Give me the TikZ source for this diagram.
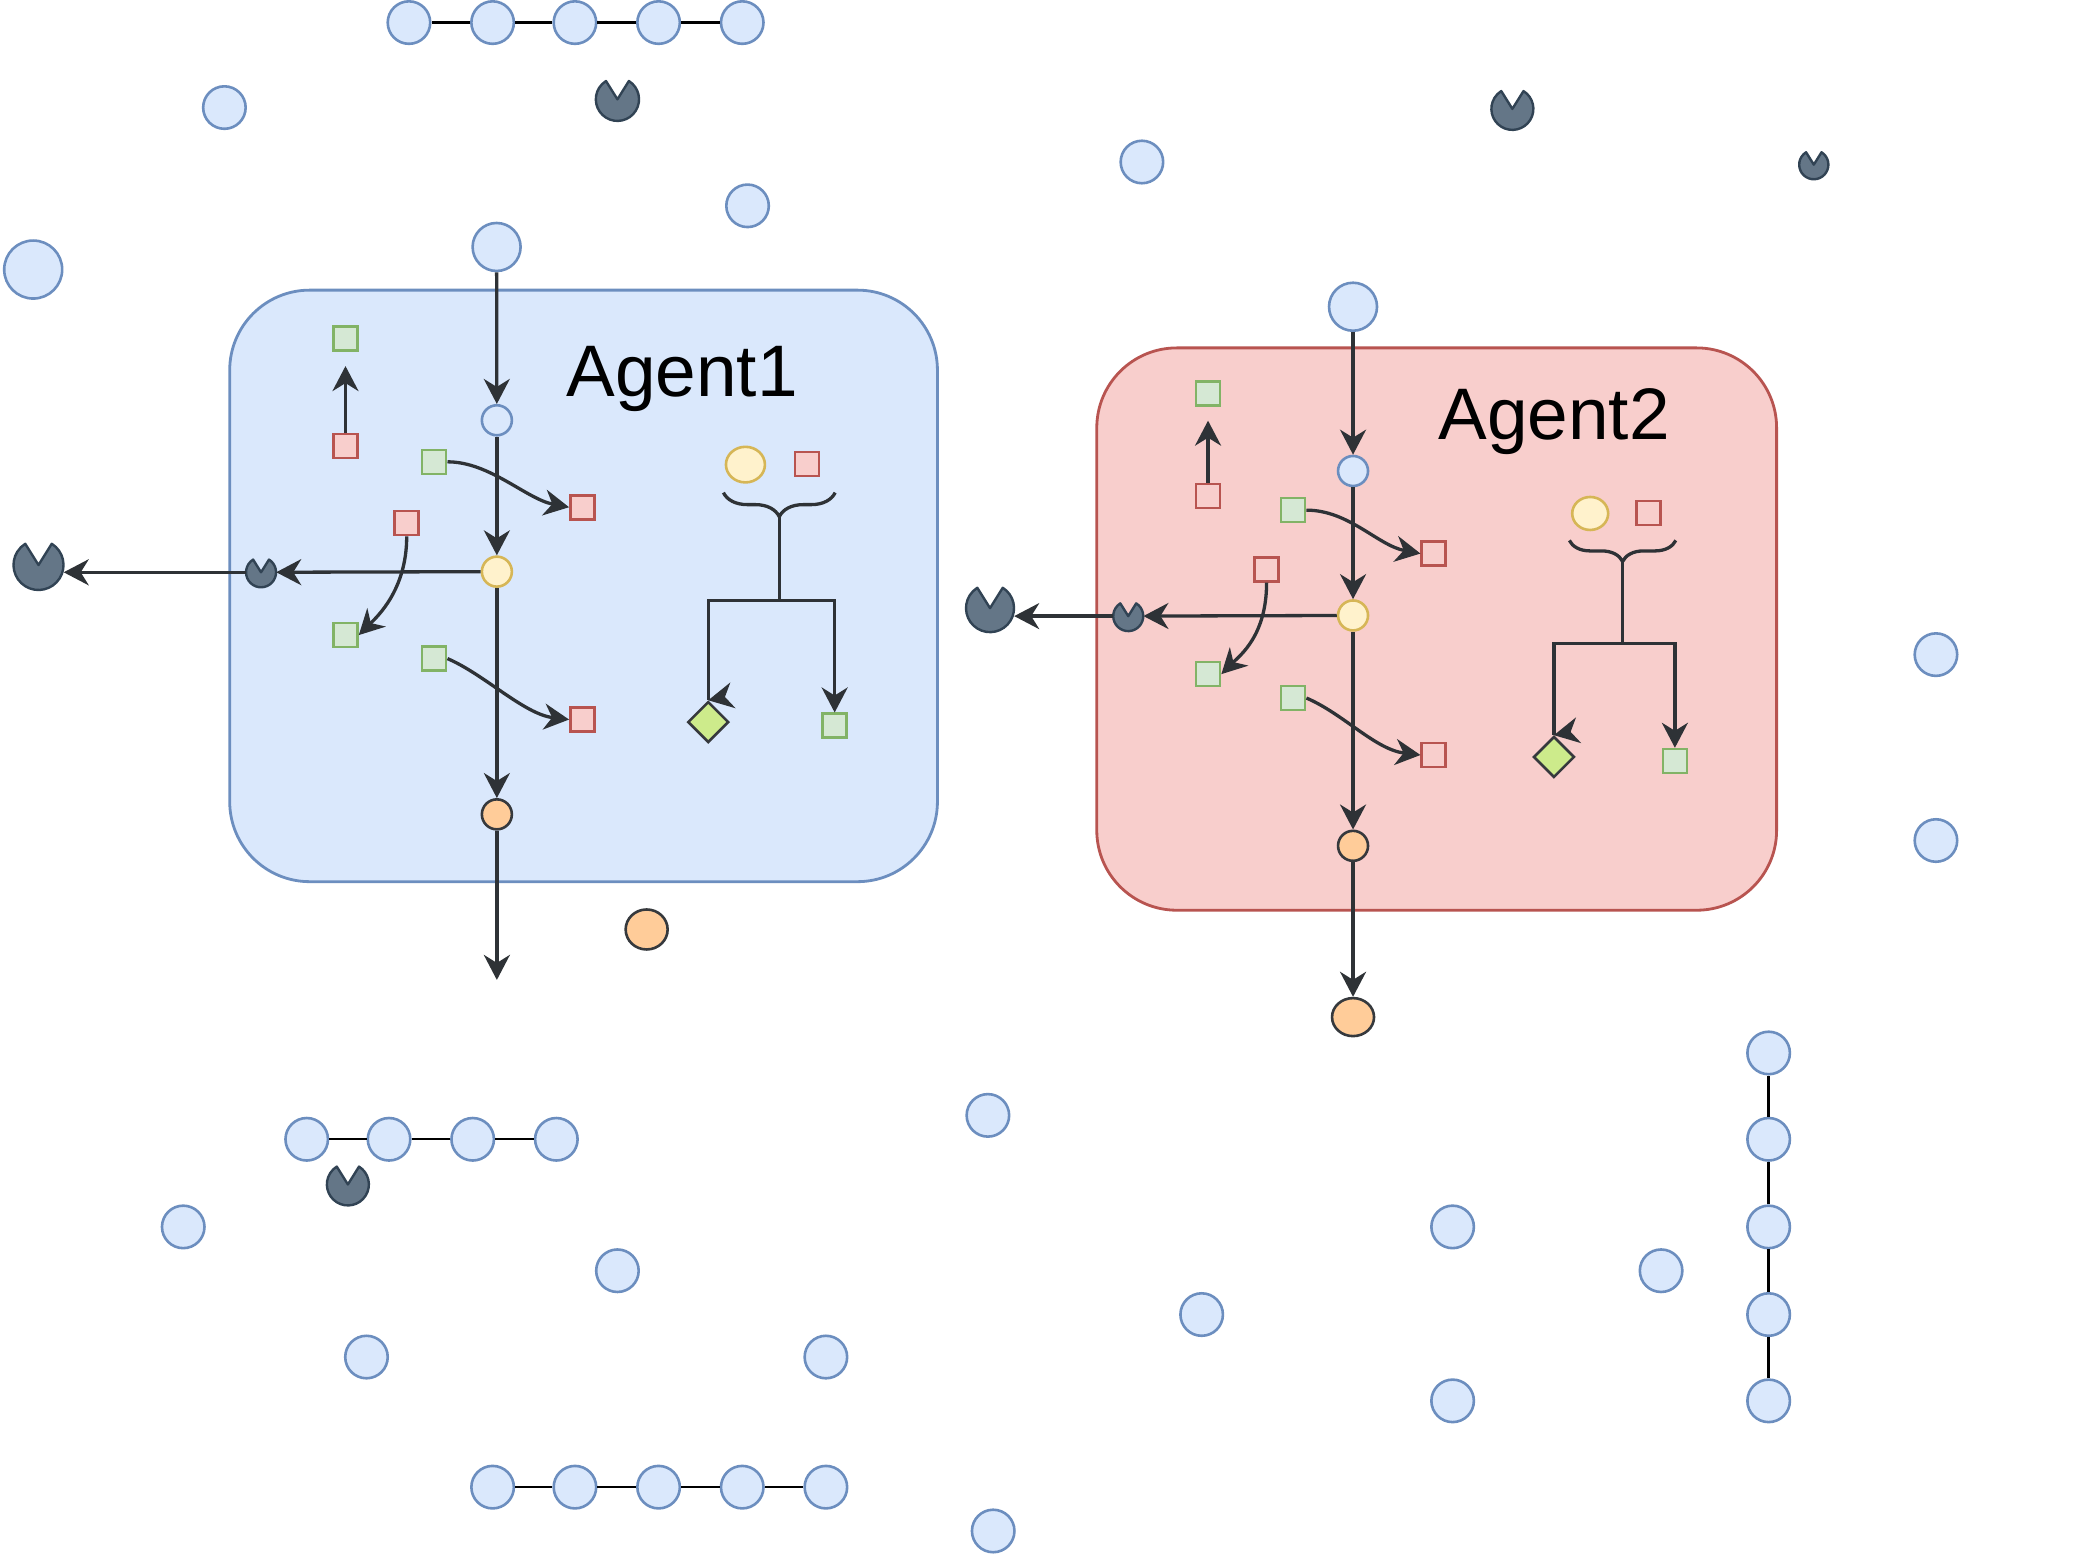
\documentclass[tikz,border=0pt]{standalone}
\usepackage{fontspec}
\setmainfont{Liberation Sans}
\usetikzlibrary{shapes.geometric,arrows.meta,decorations.pathreplacing}
\definecolor{bfill}{HTML}{DAE8FC}\definecolor{bdraw}{HTML}{6C8EBF}
\definecolor{rfill}{HTML}{F8CECC}\definecolor{rdraw}{HTML}{B85450}
\definecolor{gfill}{HTML}{D5E8D4}\definecolor{gdraw}{HTML}{82B366}
\definecolor{yfill}{HTML}{FFF2CC}\definecolor{ydraw}{HTML}{D6B656}
\definecolor{ofill}{HTML}{FFCC99}\definecolor{odraw}{HTML}{36393D}
\definecolor{pfill}{HTML}{647687}\definecolor{pdraw}{HTML}{314354}
\definecolor{dfill}{HTML}{CDEB8B}\definecolor{lcol}{HTML}{2E3236}
\newcommand\pacman[3]{%
  \node[pacnode,minimum size=2*#3pt] (#1) at (#2) {};
  \path[pac] (#1.center) -- ++(58:#3pt) arc[start angle=58,end angle=-238,radius=#3pt] -- cycle;}
\begin{document}
\begin{tikzpicture}[x=1.3278pt,y=-1.3278pt,
  base/.style={inner sep=0pt,line width=2.6pt},
  bc/.style={base,circle,draw=bdraw,fill=bfill,minimum size=42.5pt},
  sqg/.style={base,rectangle,draw=gdraw,fill=gfill,minimum size=24pt},
  sqr/.style={base,rectangle,draw=rdraw,fill=rfill,minimum size=24pt},
  yc/.style={base,ellipse,draw=ydraw,fill=yfill},
  oc/.style={base,ellipse,draw=odraw,fill=ofill},
  dm/.style={base,diamond,draw=odraw,fill=dfill,minimum size=41pt},
  pacnode/.style={circle,inner sep=0pt,draw=none},
  pac/.style={fill=pfill,draw=pdraw,line width=2.4pt,line join=round},
  arr/.style={draw=lcol,line width=3.3pt,-{Stealth[length=25pt,width=26pt,inset=8pt]}},
  ln/.style={draw=lcol,line width=3.3pt},
  chain/.style={draw=black,line width=2.4pt},
  agent/.style={rounded corners=80pt,line width=2.8pt},
  title/.style={font=\fontsize{73}{80}\selectfont,anchor=base,inner sep=0pt},
  brc/.style={draw=lcol,line width=3.3pt,decorate}]
\useasboundingbox[fill=white] (0,0) rectangle (1568,1173);

% agent boxes
\path[agent,fill=bfill,draw=bdraw] (173,218.5) rectangle (706,664);
\path[agent,fill=rfill,draw=rdraw] (826,262) rectangle (1338,685.5);
\node[title] (lab1) at (513.7,298.7) {Agent1};
\node[title] (lab2) at (1170.5,330.8) {Agent2};

% outer circles
\foreach \n/\p in {t1/{308,17},t2/{371,17},t3/{433,17},t4/{496,17},t5/{559,17},
  o1/{169,81},o2/{563,155},o4/{860,122},o5/{1458,493},o6/{1458,633},o7/{744,840},
  o8/{138,924},o9/{465,957},o10/{276,1022},o11/{622,1022},o12/{1094,924},o13/{905,990},
  o14/{1094,1055},o15/{1251,957},o16/{748,1153},
  l1/{231,858},l2/{293,858},l3/{356,858},l4/{419,858},
  b1/{371,1120},b2/{433,1120},b3/{496,1120},b4/{559,1120},b5/{622,1120},
  v1/{1332,793},v2/{1332,858},v3/{1332,924},v4/{1332,990},v5/{1332,1055}}
  \node[bc] (\n) at (\p) {};
\node[bc,minimum size=58pt] (o3) at (25,203) {};
\draw[chain] (t1) -- (t2) -- (t3) -- (t4) -- (t5);
\draw[chain] (l1) -- (l2) -- (l3) -- (l4);
\draw[chain] (b1) -- (b2) -- (b3) -- (b4) -- (b5);
\draw[chain] (v1) -- (v2) -- (v3) -- (v4) -- (v5);

% outer pacmans and orange
\pacman{pt1}{465,74.8}{21.6}
\pacman{pt2}{1139,82}{21}
\pacman{pt3}{1366,124}{14.6}
\pacman{pt4}{262,892}{21}
\pacman{pb1}{29,425.5}{25}
\pacman{pb2}{745.6,458}{24}
\node[oc,minimum width=42pt,minimum height=40pt] (ob1) at (487,700) {};
\node[oc,minimum width=42pt,minimum height=38pt] (ob2) at (1019,766) {};

% ---------------- Agent1 ----------------
\node[bc,minimum size=48pt] (in1) at (374,186) {};
\node[bc,minimum size=30pt] (bs1) at (374.2,316.5) {};
\node[yc,minimum size=30pt] (ye1) at (374.2,430.5) {};
\node[oc,minimum size=30pt] (or1) at (374.2,613.3) {};
\coordinate (out1) at (374.2,738);
\pacman{ps1}{196.6,431}{15}
\node[sqg] (g1u) at (260.2,254.9) {};
\node[sqr] (r1u) at (260.2,335.9) {};
\coordinate (a1u) at (260.2,275.7);
\node[sqg] (g1a) at (327,347.8) {};
\node[sqr] (r1a) at (438.6,382) {};
\node[sqr] (r1b) at (306.3,394) {};
\node[sqg] (g1b) at (260.2,478.3) {};
\node[sqg] (g1c) at (327,496) {};
\node[sqr] (r1c) at (438.6,541.9) {};
\node[yc,minimum width=39pt,minimum height=35.6pt] (ey1) at (561.4,349.9) {};
\node[sqr] (r1e) at (607.9,349.3) {};
\node[dm] (d1) at (533.4,543.8) {};
\node[sqg] (g1e) at (628.6,546.6) {};

\draw[arr] (in1) -- (bs1);
\draw[arr] (bs1) -- (ye1);
\draw[arr] (ye1) -- (or1);
\draw[arr] (or1) -- (out1);
\draw[arr] (ye1) -- (ps1);
\draw[arr] (ps1.west) -- (ps1.west -| pb1.east);
\draw[arr] (r1u) -- (a1u);
\draw[arr] (g1a.east) .. controls +(32,0) and +(-32,-6) .. (r1a.west);
\draw[arr] (r1b.south) .. controls +(0,40) and +(14,-14) .. (g1b.east);
\draw[arr] (g1c.east) .. controls +(28,12) and +(-34,-4) .. (r1c.west);
\draw[brc,decoration={brace,amplitude=24pt}] (629,371) -- (544.8,371);
\coordinate (bt1) at (586.9,389);
\coordinate (bj1) at (586.9,452.5);
\draw[ln] (bt1) -- (bj1);
\draw[ln] (bj1) -| (d1.north);
\draw[arr] ([shift={(10,-2)}]d1.north) -- (d1.north);
\draw[arr] (bj1) -| (g1e);

% ---------------- Agent2 ----------------
\node[bc,minimum size=48pt] (in2) at (1019,231) {};
\node[bc,minimum size=30pt] (bs2) at (1019,354.7) {};
\node[yc,minimum size=30pt] (ye2) at (1019,463.5) {};
\node[oc,minimum size=30pt] (or2) at (1019,637) {};
\pacman{ps2}{849.7,464}{15}
\node[sqg] (g2u) at (909.8,296.3) {};
\node[sqr] (r2u) at (909.8,373.4) {};
\coordinate (a2u) at (909.8,316.8);
\node[sqg] (g2a) at (973.9,384.2) {};
\node[sqr] (r2a) at (1079.8,416.9) {};
\node[sqr] (r2b) at (953.9,428.7) {};
\node[sqg] (g2b) at (909.8,507.7) {};
\node[sqg] (g2c) at (973.9,525.7) {};
\node[sqr] (r2c) at (1079.8,568.6) {};
\node[yc,minimum width=36pt,minimum height=33pt] (ey2) at (1197.6,386.7) {};
\node[sqr] (r2e) at (1241.4,386.4) {};
\node[dm] (d2) at (1170.3,570.1) {};
\node[sqg] (g2e) at (1261.4,573.2) {};

\draw[arr] (in2) -- (bs2);
\draw[arr] (bs2) -- (ye2);
\draw[arr] (ye2) -- (or2);
\draw[arr] (or2) -- (ob2);
\draw[arr] (ye2) -- (ps2);
\draw[arr] (ps2.west) -- (ps2.west -| pb2.east);
\draw[arr] (r2u) -- (a2u);
\draw[arr] (g2a.east) .. controls +(32,0) and +(-32,-6) .. (r2a.west);
\draw[arr] (r2b.south) .. controls +(0,40) and +(14,-14) .. (g2b.east);
\draw[arr] (g2c.east) .. controls +(28,12) and +(-34,-4) .. (r2c.west);
\draw[brc,decoration={brace,amplitude=21pt}] (1262.1,407) -- (1181.9,407);
\coordinate (bt2) at (1222,423);
\coordinate (bj2) at (1222,484.7);
\draw[ln] (bt2) -- (bj2);
\draw[ln] (bj2) -| (d2.north);
\draw[arr] ([shift={(10,-2)}]d2.north) -- (d2.north);
\draw[arr] (bj2) -| (g2e);
\end{tikzpicture}
\end{document}
